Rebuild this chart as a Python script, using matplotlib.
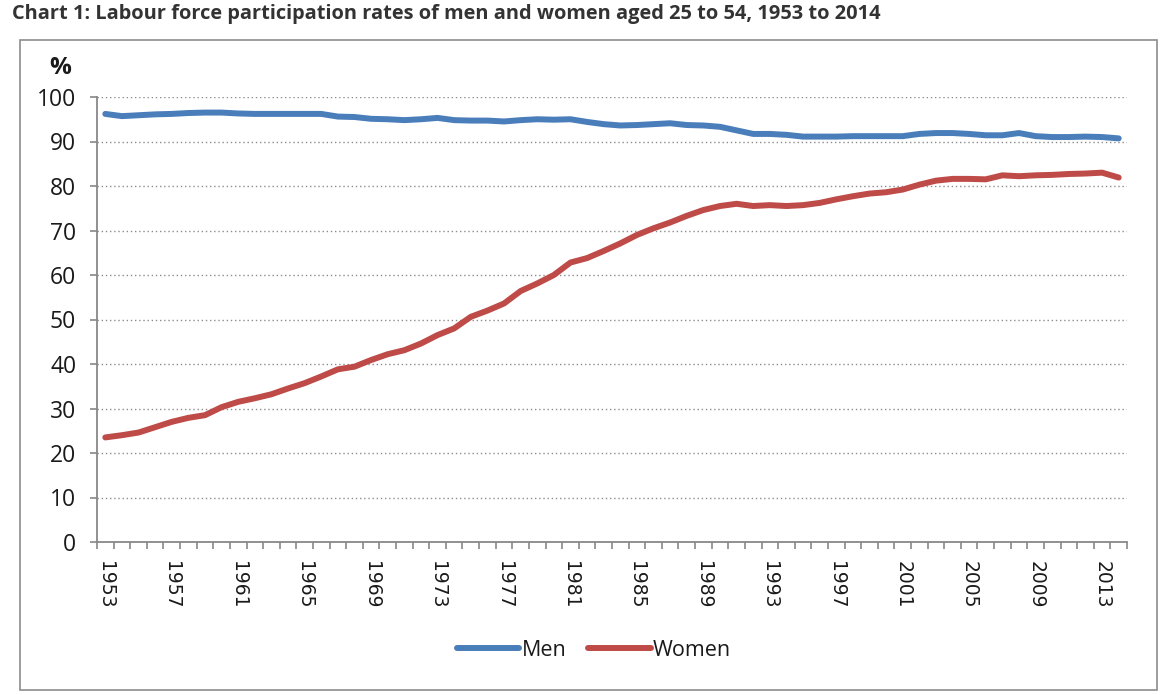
import matplotlib
matplotlib.use("Agg")
import matplotlib.pyplot as plt
from matplotlib.patches import Rectangle
import numpy as np

years = list(range(1953, 2015))
men = [96.2, 95.7, 95.9, 96.1, 96.2, 96.4, 96.5, 96.5, 96.3, 96.2,
       96.2, 96.2, 96.2, 96.2, 95.6, 95.5, 95.1, 95.0, 94.8, 95.0,
       95.3, 94.8, 94.7, 94.7, 94.5, 94.8, 95.0, 94.9, 95.0, 94.4,
       93.9, 93.6, 93.7, 93.9, 94.1, 93.7, 93.6, 93.3, 92.5, 91.7,
       91.7, 91.5, 91.1, 91.1, 91.1, 91.2, 91.2, 91.2, 91.2, 91.7,
       91.9, 91.9, 91.7, 91.4, 91.4, 91.9, 91.2, 91.0, 91.0, 91.1,
       91.0, 90.7]
women = [23.5, 24.0, 24.6, 25.8, 27.0, 27.9, 28.5, 30.3, 31.5, 32.3,
         33.2, 34.5, 35.7, 37.2, 38.8, 39.4, 40.9, 42.2, 43.1, 44.6,
         46.5, 48.0, 50.6, 52.0, 53.6, 56.4, 58.1, 60.0, 62.8, 63.8,
         65.4, 67.1, 69.0, 70.5, 71.8, 73.3, 74.6, 75.5, 76.0, 75.5,
         75.7, 75.5, 75.7, 76.2, 77.0, 77.7, 78.3, 78.6, 79.2, 80.3,
         81.2, 81.6, 81.6, 81.5, 82.4, 82.2, 82.4, 82.5, 82.7, 82.8,
         83.0, 81.9]
label_years = [str(y) for y in years[::4]]
y_ticks = list(range(0, 101, 10))

title = "Chart 1: Labour force participation rates of men and women aged 25 to 54, 1953 to 2014"

W, H = 1175, 695
fig = plt.figure(figsize=(W / 100, H / 100), dpi=100)
fig.patch.set_facecolor("white")

# outer frame
fig.patches.append(Rectangle((20 / W, 1 - 690 / H), (1157 - 20) / W, (690 - 40) / H,
                             transform=fig.transFigure, fill=False,
                             edgecolor="#8c8c8c", linewidth=1.2, zorder=0))

fig.text(12 / W, 1 - 14 / H, title, fontsize=14.4, fontweight="bold",
         family="Open Sans", color="#333333", va="center", ha="left")

ax = fig.add_axes([97 / W, 1 - 542 / H, (1127 - 97) / W, (542 - 97) / H])
x = np.arange(len(years))

blue = "#4A7EBB"
red = "#BE4B48"
ax.plot(x, men, color=blue, lw=4.3, solid_capstyle="round", solid_joinstyle="round", label="Men", zorder=3)
ax.plot(x, women, color=red, lw=4.3, solid_capstyle="round", solid_joinstyle="round", label="Women", zorder=3)

ax.set_xlim(-0.5, len(years) - 0.5)
ax.set_ylim(0, 100)

for s in ["top", "right"]:
    ax.spines[s].set_visible(False)
for s in ["left", "bottom"]:
    ax.spines[s].set_color("#888888")
    ax.spines[s].set_linewidth(1.3)

ax.set_yticks(y_ticks)
ax.set_yticklabels([str(v) for v in y_ticks], fontsize=16.5, family="Open Sans", color="#1a1a1a")
ax.tick_params(axis="y", length=5, width=1.2, color="#888888", pad=10)
for v in y_ticks[1:]:
    ax.axhline(v, color="#8c8c8c", lw=1.0, ls=(0, (1, 2)), zorder=1)

ax.set_xticks(x[::4])
ax.set_xticklabels(label_years, rotation=270, fontsize=13.5, family="DejaVu Sans", color="#1a1a1a")
ax.set_xticks(np.arange(-0.5, len(years)), minor=True)
ax.tick_params(axis="x", which="major", length=0, pad=14)
ax.tick_params(axis="x", which="minor", length=5, width=1.2, color="#888888", direction="out")

fig.text(49 / W, 1 - 68 / H, "%", fontsize=17.5, fontweight="bold", family="Open Sans",
         color="#1a1a1a", va="center", ha="left")

leg = fig.legend(loc="center", bbox_to_anchor=(594 / W, 1 - 650 / H), ncol=2, frameon=False,
                 prop={"family": "Open Sans", "size": 15.5}, handlelength=2.9,
                 handletextpad=0.12, columnspacing=1.0)
for t in leg.get_texts():
    t.set_color("#1a1a1a")

fig.savefig("out.png", dpi=100, facecolor="white")
